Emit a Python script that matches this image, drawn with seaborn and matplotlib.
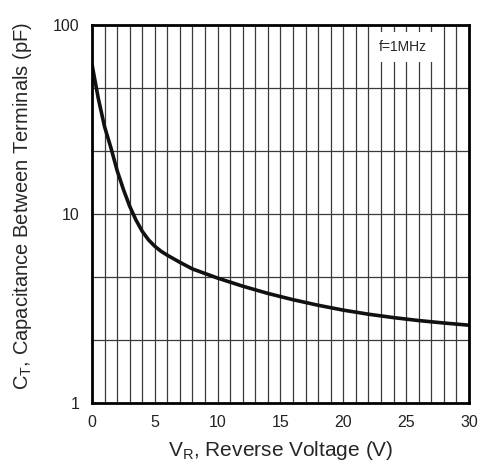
import numpy as np
import pandas as pd
import matplotlib
matplotlib.use("Agg")
import matplotlib.pyplot as plt
import seaborn as sns

# --- DATA ---
vr = [0, 0.5, 1, 1.5, 2, 2.5, 3, 3.5, 4, 4.5, 5, 5.5, 6, 7, 8, 10, 12, 14, 16, 18, 20, 22, 24, 26, 28, 30]
ct = [62, 41, 29, 22.5, 17, 13.5, 11, 9.3, 8.1, 7.3, 6.75, 6.35, 6.05, 5.55, 5.12, 4.58, 4.15, 3.8, 3.52,
      3.29, 3.1, 2.95, 2.83, 2.73, 2.65, 2.58]
x_ticks = [0, 5, 10, 15, 20, 25, 30]
y_ticks = [1, 10, 100]
y_tick_labels = ["1", "10", "100"]
note = "f=1MHz"

df = pd.DataFrame({"VR": vr, "CT": ct})

sns.set_style("white")
plt.rcParams['font.family'] = ['Liberation Sans', 'DejaVu Sans']
plt.rcParams['mathtext.fontset'] = 'custom'
plt.rcParams['mathtext.rm'] = 'Liberation Sans'

fig = plt.figure(figsize=(4.79, 4.63), dpi=100)
ax = fig.add_axes([0.192, 0.1296, 0.787, 0.8164])

ax.set_yscale("log")
ax.set_xlim(0, 30)
ax.set_ylim(1, 100)

# grid: every 1 V, and decades split in thirds
for v in np.arange(1, 30):
    ax.axvline(v, color="#3a3a3a", lw=0.9, zorder=1)
for k in [0, 1]:
    for f in [1 / 3, 2 / 3]:
        ax.axhline(10 ** (k + f), color="#3a3a3a", lw=0.9, zorder=1)
ax.axhline(10, color="#3a3a3a", lw=0.9, zorder=1)

sns.lineplot(data=df, x="VR", y="CT", ax=ax, color="#111111", lw=2.6, zorder=3)

ax.text(0.825, 0.942, note, transform=ax.transAxes, ha="center", va="center",
        fontsize=10, zorder=4,
        bbox=dict(facecolor="white", edgecolor="none", pad=6))

ax.set_xticks(x_ticks)
ax.set_yticks(y_ticks)
ax.set_yticklabels(y_tick_labels)
ax.yaxis.set_minor_locator(matplotlib.ticker.NullLocator())
ax.tick_params(axis="both", length=0, labelsize=11.5, pad=9, colors="#222222")

ax.set_xlabel(r"V$_\mathregular{R}$, Reverse Voltage (V)", fontsize=15, labelpad=6)
ax.set_ylabel(r"C$_\mathregular{T}$, Capacitance Between Terminals (pF)", fontsize=14.5)
ax.yaxis.set_label_coords(-0.155, 0.52)

for s in ax.spines.values():
    s.set_color("black")
    s.set_linewidth(2)
    s.set_zorder(5)

fig.savefig("out.png", dpi=100)
